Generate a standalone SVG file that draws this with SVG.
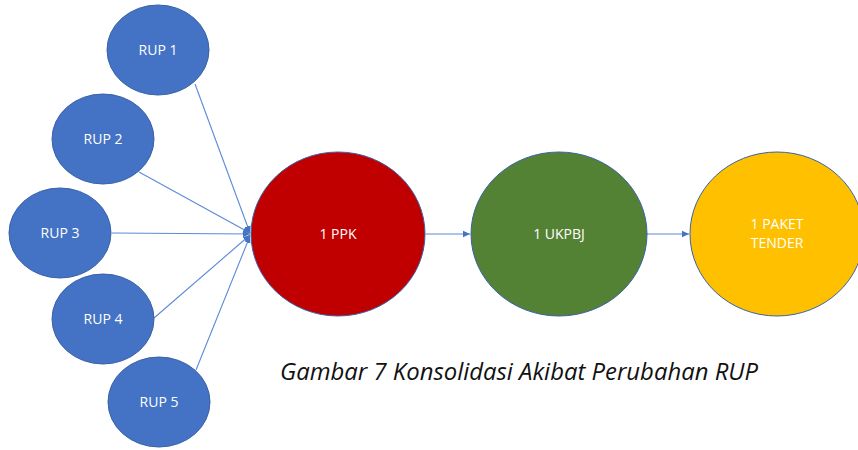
<svg xmlns="http://www.w3.org/2000/svg" width="858" height="450" viewBox="0 0 858 450">
<defs>
<marker id="ah" markerWidth="8" markerHeight="8" refX="7" refY="4" orient="auto" markerUnits="userSpaceOnUse">
<path d="M0,0.8 L7,4 L0,7.2 Z" fill="#4472C4"/>
</marker>
<style>
.rup{fill:#4472C4;stroke:#3A62A8;stroke-width:1}
.lbl{font-family:"Open Sans","Liberation Sans",sans-serif;font-size:14px;fill:#FFFFFF;text-anchor:middle}
.con{stroke:#5B8AD8;stroke-width:1.1;fill:none;marker-end:url(#ah)}
.cap{font-family:"Open Sans","Liberation Sans",sans-serif;font-style:italic;font-size:23px;fill:#111111}
</style>
</defs>
<rect width="858" height="450" fill="#FFFFFF"/>
<g id="connectors">
<line class="con" x1="195" y1="84" x2="250" y2="233"/>
<line class="con" x1="139" y1="172" x2="250" y2="233"/>
<line class="con" x1="112" y1="233" x2="250" y2="234"/>
<line class="con" x1="154" y1="318" x2="250" y2="235"/>
<line class="con" x1="196" y1="370" x2="250" y2="236"/>
<line class="con" x1="426" y1="234" x2="470" y2="234"/>
<line class="con" x1="647" y1="234" x2="689" y2="234"/>
</g>
<g id="rup1"><ellipse class="rup" cx="158" cy="50" rx="51" ry="45"/><text class="lbl" x="158" y="55">RUP 1</text></g>
<g id="rup2"><ellipse class="rup" cx="103" cy="139" rx="51" ry="45"/><text class="lbl" x="103" y="144">RUP 2</text></g>
<g id="rup3"><ellipse class="rup" cx="60" cy="233" rx="51" ry="45"/><text class="lbl" x="60" y="238">RUP 3</text></g>
<g id="rup4"><ellipse class="rup" cx="103" cy="319" rx="51" ry="45"/><text class="lbl" x="103" y="324">RUP 4</text></g>
<g id="rup5"><ellipse class="rup" cx="159" cy="402" rx="51" ry="45"/><text class="lbl" x="159" y="407">RUP 5</text></g>
<g id="ppk"><ellipse cx="338" cy="234" rx="87" ry="82" fill="#C00000" stroke="#3A62A8" stroke-width="1"/><text class="lbl" x="338" y="239">1 PPK</text></g>
<g id="ukpbj"><ellipse cx="559" cy="234" rx="88" ry="82" fill="#548235" stroke="#3A62A8" stroke-width="1"/><text class="lbl" x="559" y="239">1 UKPBJ</text></g>
<g id="paket"><ellipse cx="777" cy="234" rx="87" ry="82" fill="#FFC000" stroke="#3A62A8" stroke-width="1"/><text class="lbl" x="777" y="229">1 PAKET</text><text class="lbl" x="777" y="248">TENDER</text></g>
<text class="cap" x="280" y="380" textLength="478" lengthAdjust="spacingAndGlyphs">Gambar 7 Konsolidasi Akibat Perubahan RUP</text>
</svg>
